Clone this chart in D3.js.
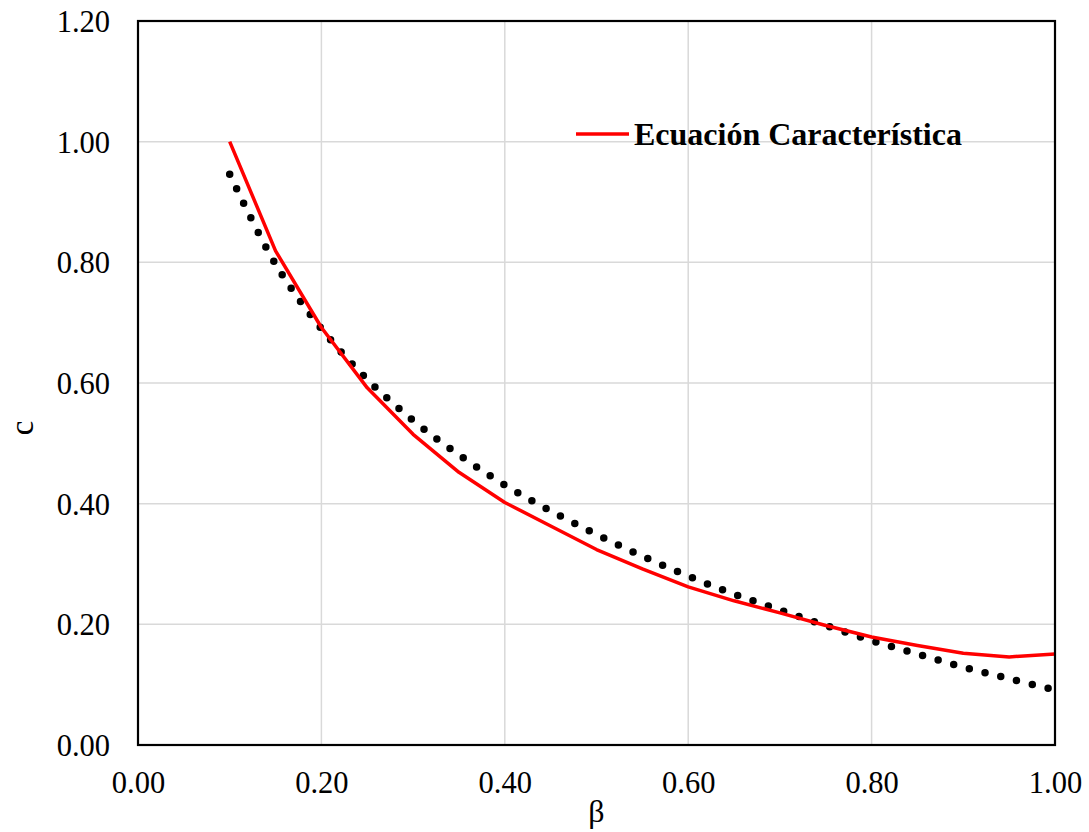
<!DOCTYPE html>
<html>
<head>
<meta charset="utf-8">
<script src="https://cdn.jsdelivr.net/npm/d3@7/dist/d3.min.js"></script>
<style>
  html, body { margin: 0; padding: 0; background: #fff; }
  svg { display: block; }
</style>
</head>
<body>
<svg id="chart" width="1089" height="832"></svg>
<script>
// ---- Data ----
const betaValues = [0.10, 0.15, 0.20, 0.25, 0.30, 0.35, 0.40, 0.45, 0.50, 0.55,
                    0.60, 0.65, 0.70, 0.75, 0.80, 0.85, 0.90, 0.95, 1.00];
const ecuacionValues = [1.000, 0.819, 0.692, 0.592, 0.515, 0.452, 0.402, 0.363, 0.324, 0.292,
                        0.262, 0.239, 0.219, 0.198, 0.179, 0.165, 0.152, 0.146, 0.151];
const trendValues = [0.946, 0.797, 0.690, 0.606, 0.538, 0.481, 0.431, 0.388, 0.349, 0.313,
                     0.280, 0.250, 0.224, 0.198, 0.173, 0.151, 0.129, 0.110, 0.091];
const xTicks = [0, 0.2, 0.4, 0.6, 0.8, 1.0];
const yTicks = [0, 0.2, 0.4, 0.6, 0.8, 1.0, 1.2];
const seriesName = "Ecuación Característica";
const xTitle = "β";
const yTitle = "c";

// ---- Layout ----
const svg = d3.select("#chart");
const pL = 138, pR = 1055, pT = 21, pB = 745;
const x = d3.scaleLinear().domain([0, 1]).range([pL, pR]);
const y = d3.scaleLinear().domain([0, 1.2]).range([pB, pT]);
const serif = "'Liberation Serif', 'Times New Roman', serif";

// gridlines
svg.append("g").selectAll("line").data(xTicks.slice(1, -1)).join("line")
  .attr("x1", d => x(d)).attr("x2", d => x(d))
  .attr("y1", pT).attr("y2", pB)
  .attr("stroke", "#d9d9d9").attr("stroke-width", 1.5);
svg.append("g").selectAll("line").data(yTicks.slice(1, -1)).join("line")
  .attr("x1", pL).attr("x2", pR)
  .attr("y1", d => y(d)).attr("y2", d => y(d))
  .attr("stroke", "#d9d9d9").attr("stroke-width", 1.5);

// axes (labels only)
const xAxis = d3.axisBottom(x).tickValues(xTicks).tickFormat(d3.format(".2f")).tickSize(0).tickPadding(0);
const yAxis = d3.axisLeft(y).tickValues(yTicks).tickFormat(d3.format(".2f")).tickSize(0).tickPadding(0);

const gx = svg.append("g").attr("transform", `translate(0,${pB})`).call(xAxis);
gx.select(".domain").remove();
gx.selectAll("text").attr("y", 48).attr("dy", null)
  .attr("font-family", serif).attr("font-size", 30.5).attr("fill", "#000");

const gy = svg.append("g").attr("transform", `translate(${pL},0)`).call(yAxis);
gy.select(".domain").remove();
gy.selectAll("text").attr("x", -28).attr("dy", "0.34em")
  .attr("font-family", serif).attr("font-size", 30.5).attr("fill", "#000");

// trend (dotted)
const trendData = betaValues.map((b, i) => [b, trendValues[i]]);
svg.append("path")
  .datum(trendData)
  .attr("d", d3.line().x(d => x(d[0])).y(d => y(d[1])).curve(d3.curveCatmullRom))
  .attr("fill", "none").attr("stroke", "#000")
  .attr("stroke-width", 7.5).attr("stroke-linecap", "round")
  .attr("stroke-dasharray", "0 16.2");

// series line
const serData = betaValues.map((b, i) => [b, ecuacionValues[i]]);
svg.append("path")
  .datum(serData)
  .attr("d", d3.line().x(d => x(d[0])).y(d => y(d[1])))
  .attr("fill", "none").attr("stroke", "#ff0000")
  .attr("stroke-width", 3.5).attr("stroke-linejoin", "round");

// frame
svg.append("rect")
  .attr("x", pL).attr("y", pT).attr("width", pR - pL).attr("height", pB - pT)
  .attr("fill", "none").attr("stroke", "#000").attr("stroke-width", 2.2);

// legend
svg.append("line").attr("x1", 576).attr("x2", 629).attr("y1", 134).attr("y2", 134)
  .attr("stroke", "#ff0000").attr("stroke-width", 3.5);
svg.append("text").attr("x", 634).attr("y", 145)
  .attr("font-family", serif).attr("font-size", 32).attr("font-weight", "bold")
  .attr("fill", "#000").text(seriesName);

// axis titles
svg.append("text").attr("x", (pL + pR) / 2).attr("y", 822)
  .attr("text-anchor", "middle").attr("font-family", serif).attr("font-size", 32)
  .attr("fill", "#000").text(xTitle);
svg.append("text")
  .attr("transform", `translate(33,${(pT + pB) / 2 + 45}) rotate(-90)`)
  .attr("text-anchor", "middle").attr("font-family", serif).attr("font-size", 33)
  .attr("fill", "#000").text(yTitle);
</script>
</body>
</html>
